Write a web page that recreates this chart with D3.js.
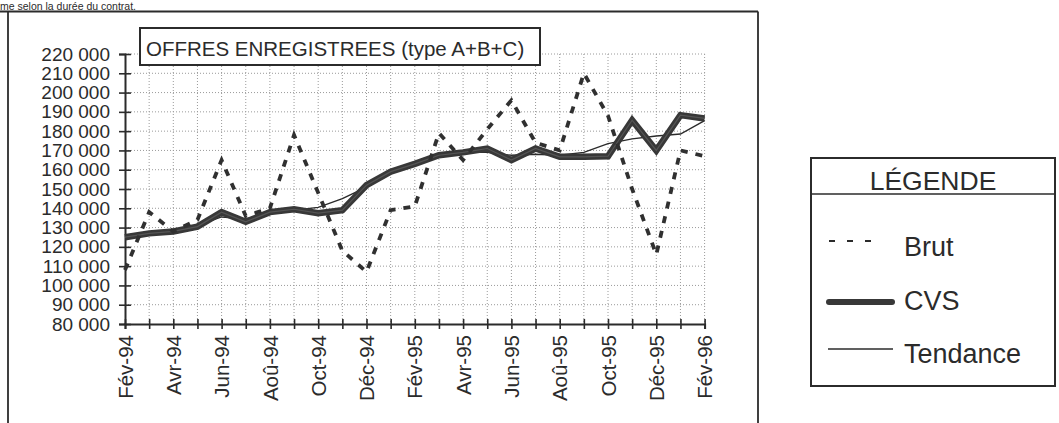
<!DOCTYPE html>
<html><head><meta charset="utf-8">
<script src="https://cdn.jsdelivr.net/npm/d3@7/dist/d3.min.js"></script>
<style>
html,body{margin:0;padding:0;background:#fff;}
svg{display:block;font-family:"Liberation Sans",Arial,Helvetica,sans-serif;}
</style></head>
<body><svg id="c" width="1059" height="423"></svg>
<script>
const months = ["Fév-94","Mar-94","Avr-94","Mai-94","Jun-94","Jul-94","Aoû-94","Sep-94","Oct-94","Nov-94","Déc-94","Jan-95","Fév-95","Mar-95","Avr-95","Mai-95","Jun-95","Jul-95","Aoû-95","Sep-95","Oct-95","Nov-95","Déc-95","Jan-96","Fév-96"];
const tickLabels = ["Fév-94","Avr-94","Jun-94","Aoû-94","Oct-94","Déc-94","Fév-95","Avr-95","Jun-95","Aoû-95","Oct-95","Déc-95","Fév-96"];
const brut = [108000,138000,128000,134000,165000,136000,140000,178000,148000,118000,107000,139000,141000,179000,165000,181000,196000,174000,170000,210000,188000,150000,116000,170000,167000];
const cvs = [125000,127000,128000,130500,138000,133000,138000,139500,137500,139000,152000,159000,163000,167500,169000,171000,165000,171000,166700,166700,167000,185700,170000,188300,186600];
const tendance = [125000,127000,128500,131000,135500,134500,137500,139000,140500,145000,151000,158000,163000,167000,169000,169000,167500,168000,167500,169000,173500,176000,177500,178500,185500];
const yTicks = d3.range(80000, 220001, 10000);
const title = "OFFRES ENREGISTREES (type A+B+C)";
const legendTitle = "LÉGENDE";
const legendItems = ["Brut","CVS","Tendance"];
const topText = "me selon la durée du contrat.";

const svg = d3.select("#c");
const ink = "#2b2b2b";
const x = d3.scalePoint().domain(months).range([125, 704.6]);
const y = d3.scaleLinear().domain([80000, 220000]).range([324, 54]);
const fmt = v => d3.format(",")(v).replace(/,/g, " ");

// top partial text and frame
svg.append("text").attr("x", 0).attr("y", 9.5).attr("font-size", 10.5).attr("fill", ink).text(topText);
svg.append("line").attr("x1", 0).attr("x2", 758).attr("y1", 11.5).attr("y2", 11.5).attr("stroke", ink).attr("stroke-width", 1.8);
svg.append("line").attr("x1", 8).attr("x2", 8).attr("y1", 11.5).attr("y2", 423).attr("stroke", ink).attr("stroke-width", 1.8);
svg.append("line").attr("x1", 758).attr("x2", 758).attr("y1", 11.5).attr("y2", 423).attr("stroke", ink).attr("stroke-width", 1.8);

// grid
const grid = svg.append("g").attr("stroke", "#9a9a9a").attr("stroke-width", 1).attr("stroke-dasharray", "1,2");
grid.selectAll("line.h").data(yTicks.slice(1)).join("line")
  .attr("x1", 125).attr("x2", 704.6).attr("y1", d => y(d)).attr("y2", d => y(d));
grid.selectAll("line.v").data(months.slice(1)).join("line")
  .attr("x1", d => x(d)).attr("x2", d => x(d)).attr("y1", y(220000)).attr("y2", y(80000));

// y axis
const yAxis = svg.append("g").attr("transform", "translate(125,0)")
  .call(d3.axisLeft(y).tickValues(yTicks).tickFormat(fmt).tickSize(6).tickPadding(8));
yAxis.select(".domain").attr("stroke", ink).attr("stroke-width", 2);
yAxis.selectAll(".tick line").attr("stroke", ink).attr("stroke-width", 1.6).attr("x2", -6).attr("x1", 6);
yAxis.selectAll(".tick text").attr("font-size", 19).attr("fill", ink).attr("font-family", "Liberation Sans, Arial, sans-serif").attr("x", -15);

// x axis
const xAxis = svg.append("g").attr("transform", "translate(0,324)")
  .call(d3.axisBottom(x).tickValues(months).tickFormat(d => tickLabels.includes(d) ? d : "").tickSize(5).tickPadding(0));
xAxis.select(".domain").attr("stroke", ink).attr("stroke-width", 2);
xAxis.selectAll(".tick line").attr("stroke", ink).attr("stroke-width", 1.6).attr("y1", -5).attr("y2", 5);
xAxis.selectAll(".tick text").attr("font-size", 20.5).attr("fill", ink).attr("font-family", "Liberation Sans, Arial, sans-serif")
  .attr("transform", "rotate(-90)").attr("text-anchor", "end").attr("x", -11).attr("y", 0).attr("dy", "0.35em");

// lines
const line = d3.line().x((d, i) => x(months[i])).y(d => y(d));
svg.append("path").datum(tendance).attr("d", line).attr("fill", "none").attr("stroke", ink).attr("stroke-width", 1.4);
svg.append("path").datum(cvs).attr("d", line).attr("fill", "none").attr("stroke", "#383838").attr("stroke-width", 6.5).attr("stroke-linejoin", "miter");
svg.append("path").datum(cvs).attr("d", line).attr("fill", "none").attr("stroke", "#555").attr("stroke-width", 1.2);
svg.append("path").datum(brut).attr("d", line).attr("fill", "none").attr("stroke", "#303030").attr("stroke-width", 3.8).attr("stroke-dasharray", "7,8");

// title box
svg.append("rect").attr("x", 140).attr("y", 28).attr("width", 400).attr("height", 37).attr("fill", "#fff").attr("stroke", ink).attr("stroke-width", 2);
svg.append("text").attr("x", 146).attr("y", 56).attr("font-size", 20.5).attr("fill", ink).text(title);

// legend
const lg = svg.append("g");
lg.append("rect").attr("x", 811).attr("y", 158).attr("width", 244).attr("height", 228).attr("fill", "#fff").attr("stroke", ink).attr("stroke-width", 2);
lg.append("line").attr("x1", 811).attr("x2", 1055).attr("y1", 194).attr("y2", 194).attr("stroke", ink).attr("stroke-width", 1.5);
lg.append("text").attr("x", 933).attr("y", 190).attr("text-anchor", "middle").attr("font-size", 26.5).attr("fill", ink).text(legendTitle);
const ly = [241, 302, 349];
const ty = [256, 310, 363];
lg.append("line").attr("x1", 829).attr("x2", 880).attr("y1", ly[0]).attr("y2", ly[0]).attr("stroke", ink).attr("stroke-width", 1.8).attr("stroke-dasharray", "6,12");
lg.append("line").attr("x1", 829).attr("x2", 892).attr("y1", ly[1]).attr("y2", ly[1]).attr("stroke", "#383838").attr("stroke-width", 6).attr("stroke-linecap", "round");
lg.append("line").attr("x1", 828).attr("x2", 893).attr("y1", ly[2]).attr("y2", ly[2]).attr("stroke", ink).attr("stroke-width", 1.4);
lg.selectAll("text.item").data(legendItems).join("text").attr("class", "item")
  .attr("x", 904).attr("y", (d, i) => ty[i]).attr("font-size", 27).attr("fill", ink).text(d => d);
</script></body></html>
